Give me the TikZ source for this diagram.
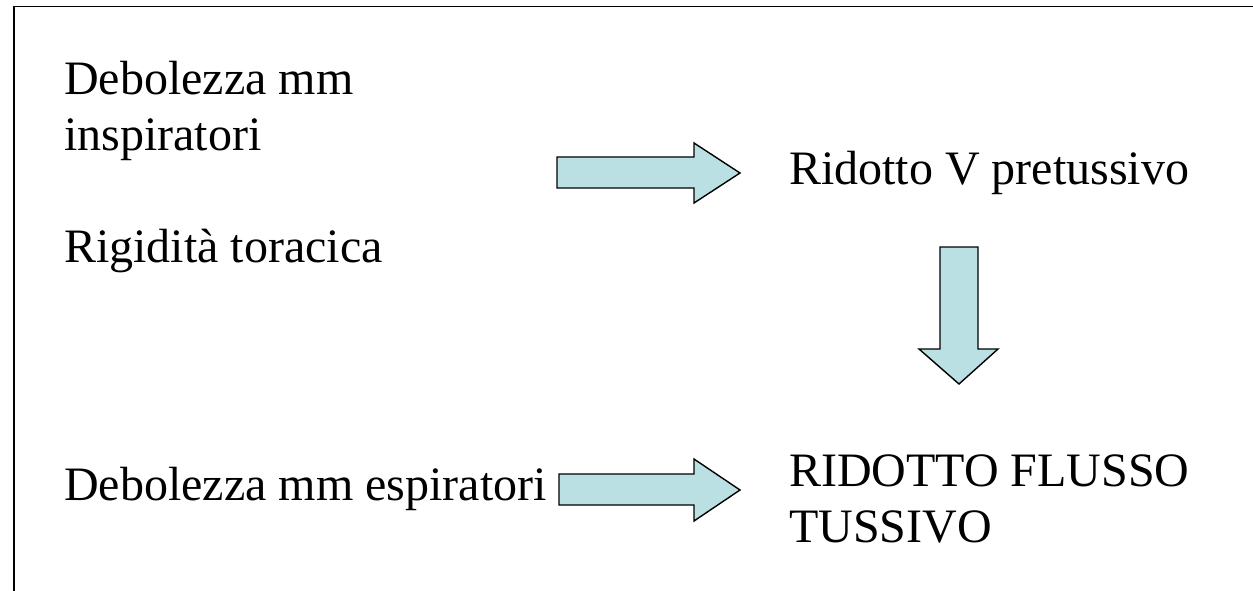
\documentclass[tikz,border=0pt]{standalone}
\usepackage{fontspec}
\setmainfont{Liberation Serif}
\begin{document}
\begin{tikzpicture}[x=1pt,y=-1pt,
  label/.style={anchor=base west,inner sep=0pt,align=left,
    font=\fontsize{48}{56}\selectfont},
  blockarrow/.style={draw=black,line width=1.4pt,line join=miter,fill=arrowfill},
  frameline/.style={draw=black,line width=1.8pt}]
\definecolor{arrowfill}{RGB}{187,224,227}
\useasboundingbox (0,0) rectangle (1253,591);
% open frame: top and left edges
\draw[frameline] (1253,6.5) -- (14,6.5) -- (14,591);

% causes (two-line nodes are placed by the baseline of their last line)
\node[label] (insp) at (64,151) {Debolezza mm\\inspiratori};
\node[label] (rig) at (64,262) {Rigidità toracica};
\node[label] (esp) at (64,500) {Debolezza mm espiratori};

% effects
\node[label] (vol) at (789,185) {Ridotto V pretussivo};
\node[label] (flux) at (789,542) {RIDOTTO FLUSSO\\TUSSIVO};

% block arrows
\draw[blockarrow] (557,157) -- (694,157) -- (694,143) -- (740,173)
  -- (694,203) -- (694,188) -- (557,188) -- cycle;
\draw[blockarrow] (940,247) -- (978,247) -- (978,349) -- (998,349)
  -- (959,384) -- (919,349) -- (940,349) -- cycle;
\draw[blockarrow] (559,474) -- (694,474) -- (694,459) -- (740,490)
  -- (694,521) -- (694,505) -- (559,505) -- cycle;
\end{tikzpicture}
\end{document}
